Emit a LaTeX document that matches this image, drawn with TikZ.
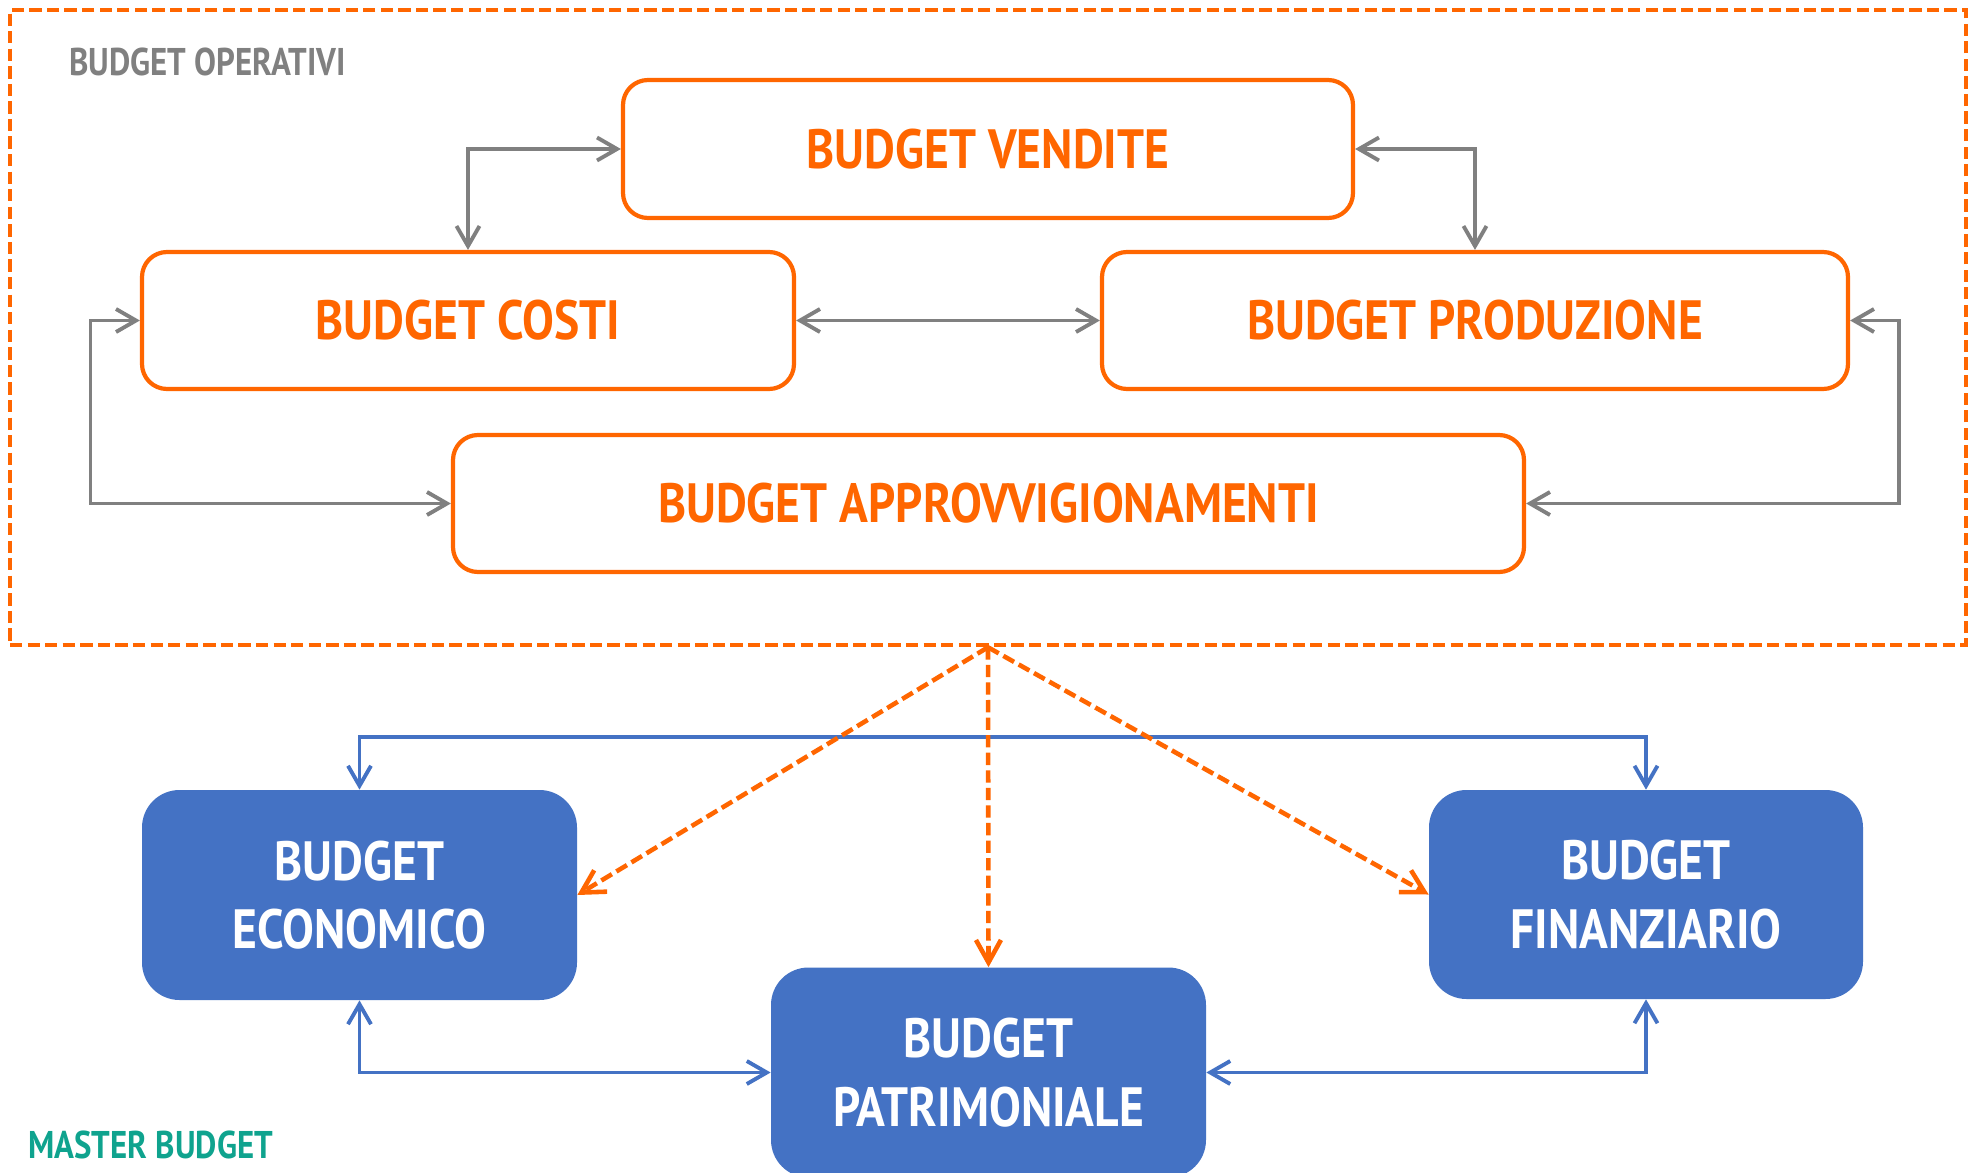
\documentclass[tikz,border=0pt]{standalone}
\usepackage{fontspec}
\newfontfamily\nar{PT Sans}[FakeStretch=0.86]
\newfontfamily\narl{PT Sans}[FakeStretch=0.85]
\usetikzlibrary{arrows.meta}
\definecolor{org}{HTML}{FF6600}
\definecolor{gry}{HTML}{808080}
\definecolor{blu}{HTML}{4472C4}
\definecolor{tea}{HTML}{0FA38E}
\begin{document}
\begin{tikzpicture}[x=0.02cm,y=-0.02cm,
  obox/.style={draw=org, line width=2.4pt, rounded corners=0.5cm, fill=white, text=org, inner sep=0pt,
    font=\nar\bfseries\fontsize{31.5}{37}\selectfont},
  bbox/.style={fill=blu, draw=none, rounded corners=0.75cm, text=white, align=center, inner sep=0pt,
    font=\nar\bfseries\fontsize{31.5}{39}\selectfont},
  garr/.style={draw=gry, line width=2.2pt, {Straight Barb[length=0.4cm,width=0.46cm]}-{Straight Barb[length=0.4cm,width=0.46cm]}},
  barr/.style={draw=blu, line width=2.2pt, {Straight Barb[length=0.4cm,width=0.46cm]}-{Straight Barb[length=0.4cm,width=0.46cm]}},
  oarr/.style={draw=org, line width=2.6pt, dash pattern=on 7pt off 3pt, -{Straight Barb[length=0.45cm,width=0.5cm]}},
  lbl/.style={anchor=base west, inner sep=0pt, font=\narl\bfseries\fontsize{22}{26}\selectfont}
]
\useasboundingbox (0,0) rectangle (1972,1173);
\fill[white] (0,0) rectangle (1972,1173);

% outer dashed frame
\node[draw=org, line width=2.6pt, dash pattern=on 7pt off 3pt, inner sep=0pt,
      minimum width=1956*0.02cm, minimum height=635*0.02cm] (ops) at (988,327.5) {};
\node[lbl, text=gry] (lop) at (69,75) {BUDGET OPERATIVI};

% operative budgets
\node[obox, minimum width=730*0.02cm, minimum height=138*0.02cm] (vend) at (988,149) {BUDGET VENDITE};
\node[obox, minimum width=652*0.02cm, minimum height=137*0.02cm] (costi) at (468,320.5) {BUDGET COSTI};
\node[obox, minimum width=746*0.02cm, minimum height=137*0.02cm] (prod) at (1475,320.5) {BUDGET PRODUZIONE};
\node[obox, minimum width=1071*0.02cm, minimum height=137*0.02cm] (appr) at (988.5,503.5) {BUDGET APPROVVIGIONAMENTI};

\coordinate (L) at (90.5,412);
\coordinate (R) at (1899,412);
\draw[garr] (costi.north) |- (vend.west);
\draw[garr] (vend.east) -| (prod.north);
\draw[garr] (costi.east) -- (prod.west);
\draw[garr] (costi.west) -| (L) |- (appr.west);
\draw[garr] (prod.east) -| (R) |- (appr.east);

% master budget
\node[bbox, minimum width=435*0.02cm, minimum height=210*0.02cm] (econ) at (359.5,895) {BUDGET\\ECONOMICO};
\node[bbox, minimum width=435*0.02cm, minimum height=210*0.02cm] (patr) at (988.5,1072.5) {BUDGET\\PATRIMONIALE};
\node[bbox, minimum width=434*0.02cm, minimum height=209*0.02cm] (fin) at (1646,894.5) {BUDGET\\FINANZIARIO};

\coordinate (T) at (988,737);
\draw[barr] (econ.north) |- (T) -| (fin.north);
\draw[barr] (econ.south) |- (patr.west);
\draw[barr] (fin.south) |- (patr.east);

\draw[oarr] (ops.south) -- (econ.east);
\draw[oarr] (ops.south) -- (patr.north);
\draw[oarr] (ops.south) -- (fin.west);

\node[lbl, text=tea] (mb) at (28,1158) {MASTER BUDGET};
\end{tikzpicture}
\end{document}
